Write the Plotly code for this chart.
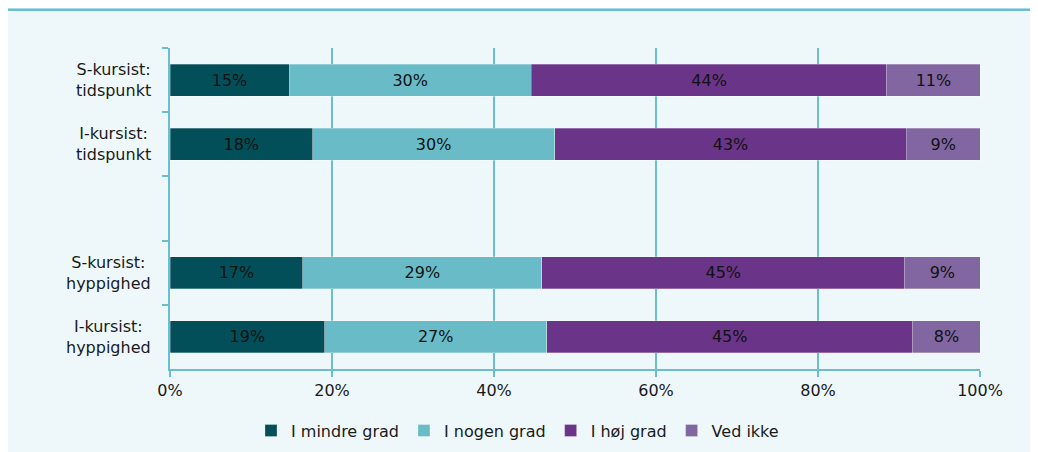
import plotly.graph_objects as go

categories = ["S-kursist:<br>tidspunkt", "I-kursist:<br>tidspunkt", " ", "S-kursist:<br>hyppighed", "I-kursist:<br>hyppighed"]
series_names = ["I mindre grad", "I nogen grad", "I høj grad", "Ved ikke"]
# values per series (percent), None for the empty gap row
mindre = [14.7, 17.6, None, 16.4, 19.1]
nogen = [29.9, 29.9, None, 29.5, 27.4]
hoej = [43.9, 43.4, None, 44.8, 45.2]
vedikke = [11.5, 9.1, None, 9.3, 8.3]
mindre_lbl = ["15%", "18%", "", "17%", "19%"]
nogen_lbl = ["30%", "30%", "", "29%", "27%"]
hoej_lbl = ["44%", "43%", "", "45%", "45%"]
vedikke_lbl = ["11%", "9%", "", "9%", "8%"]
x_ticks = [0, 20, 40, 60, 80, 100]
x_ticklabels = ["0%", "20%", "40%", "60%", "80%", "100%"]

colors = ["#024f59", "#69bcc7", "#6a3589", "#8166a1"]
teal = "#6bbfcc"
bg = "#eef8fa"
FONT = "DejaVu Sans"
FS = 16

fig = go.Figure()
for name, vals, lbls, col in zip(series_names, [mindre, nogen, hoej, vedikke],
                                 [mindre_lbl, nogen_lbl, hoej_lbl, vedikke_lbl], colors):
    fig.add_trace(go.Bar(
        y=categories, x=vals, name=name, orientation="h",
        marker=dict(color=col, line=dict(color="rgba(255,255,255,0.35)", width=0.8)),
        text=lbls, textposition="inside", insidetextanchor="middle", textangle=0,
        textfont=dict(family=FONT, size=FS, color="#111111"),
        constraintext="none", hoverinfo="skip",
    ))

fig.update_layout(
    barmode="stack", bargap=0.5,
    width=1038, height=452,
    margin=dict(l=162, r=66, t=40, b=89),
    paper_bgcolor=bg, plot_bgcolor=bg,
    font=dict(family=FONT, size=FS, color="#1a1a1a"),
    showlegend=True,
    legend=dict(orientation="h", x=0.1, xanchor="left", y=-0.192, yanchor="middle",
                font=dict(family=FONT, size=FS, color="#1a1a1a"),
                itemwidth=30, traceorder="normal", bgcolor="rgba(0,0,0,0)"),
    xaxis=dict(range=[0, 100], tickvals=x_ticks, ticktext=x_ticklabels,
               showgrid=True, gridcolor=teal, gridwidth=2,
               showline=True, linecolor=teal, linewidth=2,
               ticks="outside", ticklen=6, tickwidth=2, tickcolor=teal,
               tickfont=dict(family=FONT, size=FS, color="#1a1a1a"),
               zeroline=False, fixedrange=True),
    yaxis=dict(categoryorder="array", categoryarray=categories, autorange="reversed",
               showticklabels=False, showline=True, linecolor=teal, linewidth=2,
               ticks="outside", ticklen=6, tickwidth=2, tickcolor=teal,
               tickson="boundaries", showgrid=False, zeroline=False, fixedrange=True),
)

# category labels, centered multi-line
for c in categories:
    if c.strip():
        fig.add_annotation(x=-0.021, xref="paper", y=c, yref="y", text=c,
                           showarrow=False, xanchor="right", align="center",
                           font=dict(family=FONT, size=FS, color="#1a1a1a"))

# teal top rule of the frame
fig.add_shape(type="line", xref="paper", yref="paper", x0=-0.3, x1=1.2, y0=1.119, y1=1.119,
              line=dict(color=teal, width=2.5))

fig.write_html("out.html")
